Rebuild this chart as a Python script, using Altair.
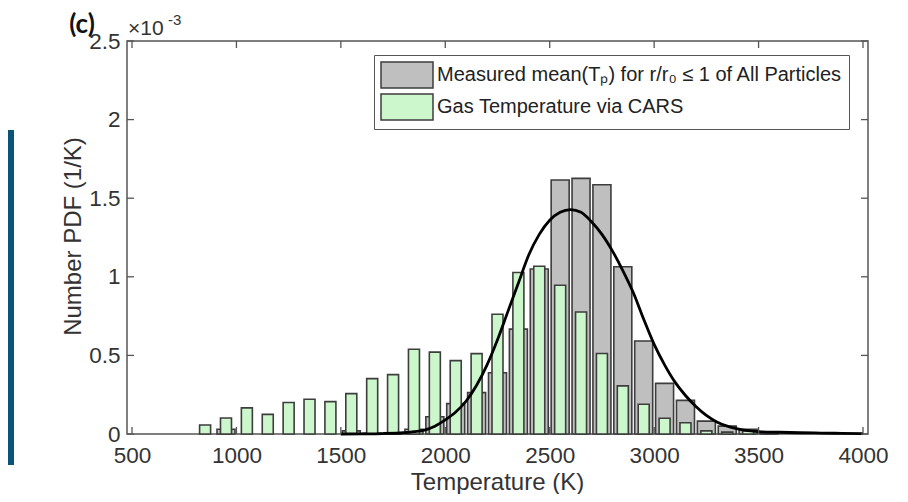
import altair as alt
import pandas as pd

# ---------------- data (values in units of 1e-3 1/K) ----------------
temp_bins = [850, 950, 1050, 1150, 1250, 1350, 1450, 1550, 1650, 1750,
             1850, 1950, 2050, 2150, 2250, 2350, 2450, 2550, 2650, 2750,
             2850, 2950, 3050, 3150, 3250, 3350, 3450, 3550]
particle_pdf = [0.0, 0.03, 0.0, 0.0, 0.0, 0.0, 0.0, 0.02, 0.005, 0.008,
                0.03, 0.11, 0.193, 0.263, 0.39, 0.667, 1.05, 1.616, 1.626, 1.586,
                1.064, 0.592, 0.322, 0.214, 0.082, 0.05, 0.03, 0.01]
gas_pdf = [0.057, 0.102, 0.166, 0.125, 0.20, 0.221, 0.206, 0.257, 0.352, 0.378,
           0.539, 0.521, 0.467, 0.511, 0.762, 1.027, 1.067, 0.946, 0.776, 0.512,
           0.306, 0.189, 0.10, 0.072, 0.02, 0.012, 0.02, 0.005]

fit_T = [1500, 1600, 1700, 1800, 1850, 1900, 1950, 2000, 2050, 2100,
         2150, 2200, 2250, 2300, 2350, 2400, 2450, 2500, 2550, 2600,
         2650, 2700, 2750, 2800, 2850, 2900, 2950, 3000, 3050, 3100,
         3150, 3200, 3250, 3300, 3350, 3400, 3450, 3500, 3600, 3700,
         3800, 3900, 4000]
fit_pdf = [0.0, 0.001, 0.003, 0.008, 0.015, 0.025, 0.05, 0.09, 0.14, 0.21,
           0.31, 0.44, 0.60, 0.78, 0.96, 1.14, 1.27, 1.36, 1.41, 1.427,
           1.41, 1.35, 1.27, 1.165, 1.04, 0.90, 0.73, 0.57, 0.44, 0.33,
           0.245, 0.175, 0.118, 0.077, 0.05, 0.032, 0.021, 0.015, 0.011, 0.008,
           0.006, 0.004, 0.003]

x_ticks = [500, 1000, 1500, 2000, 2500, 3000, 3500, 4000]
y_ticks = [0, 0.5, 1, 1.5, 2, 2.5]

series_names = ["Measured mean(T\u209a) for r/r\u2080 \u2264 1 of All Particles",
                "Gas Temperature via CARS"]
series_fill = ["#bfbfbf", "#ccf7cc"]

# ---------------- frames ----------------
particles = pd.DataFrame({"T": temp_bins, "pdf": particle_pdf, "series": series_names[0]})
particles = particles[particles["pdf"] > 0]
gas = pd.DataFrame({"T": temp_bins, "pdf": gas_pdf, "series": series_names[1]})
fit = pd.DataFrame({"T": fit_T, "pdf": fit_pdf})
xt = pd.DataFrame({"T": x_ticks})
yt = pd.DataFrame({"pdf": y_ticks})
one = pd.DataFrame({"k": [0]})

FONT = "Liberation Sans"
W, H = 741, 393

xs = alt.Scale(domain=[500, 4000], nice=False, zero=False)
ys = alt.Scale(domain=[0, 2.5], nice=False, zero=True)

x_enc = alt.X("T:Q", scale=xs,
              axis=alt.Axis(values=x_ticks, format="d", title="Temperature (K)",
                            labelPadding=10, titleX=370, titleY=48,
                            titleAlign="center", titleBaseline="middle"))
y_enc = alt.Y("pdf:Q", scale=ys, stack=None,
              axis=alt.Axis(values=y_ticks, format="~g", title="Number PDF (1/K)",
                            labelPadding=7, titleX=-54, titleY=195, titleAngle=270,
                            titleAlign="center", titleBaseline="middle"))

color = alt.Color(
    "series:N",
    scale=alt.Scale(domain=series_names, range=series_fill),
    legend=alt.Legend(title=None, orient="none", legendX=247, legendY=14,
                      direction="vertical", fillColor="white", strokeColor="#555555",
                      padding=6, rowPadding=0,
                      symbolType="M-1,-1H3V1H-1Z", symbolSize=676,
                      symbolStrokeColor="#3d3d3d", symbolStrokeWidth=1.5, symbolOpacity=1,
                      labelFont=FONT, labelFontSize=20, labelColor="#222222",
                      labelOffset=29, labelLimit=700),
)

gray_bars = alt.Chart(particles).mark_bar(width=18, stroke="#3d3d3d", strokeWidth=1.6,
                                          opacity=1).encode(x=x_enc, y=y_enc, color=color)
green_bars = alt.Chart(gas).mark_bar(width=11, stroke="#3d3d3d", strokeWidth=1.6,
                                     opacity=1).encode(x=x_enc, y=y_enc, color=color)
curve = alt.Chart(fit).mark_line(color="black", strokeWidth=2.8,
                                 interpolate="monotone").encode(x=x_enc, y=y_enc)

tick_col = "#555555"
xt_bottom = alt.Chart(xt).mark_rule(color=tick_col, strokeWidth=1.3).encode(
    x=x_enc, y=alt.value(H), y2=alt.value(H - 7))
xt_top = alt.Chart(xt).mark_rule(color=tick_col, strokeWidth=1.3).encode(
    x=x_enc, y=alt.value(0), y2=alt.value(7))
yt_left = alt.Chart(yt).mark_rule(color=tick_col, strokeWidth=1.3).encode(
    y=y_enc, x=alt.value(0), x2=alt.value(7))
yt_right = alt.Chart(yt).mark_rule(color=tick_col, strokeWidth=1.3).encode(
    y=y_enc, x=alt.value(W - 7), x2=alt.value(W))

exp_base = alt.Chart(one).mark_text(text="\u00d710", font=FONT, fontSize=21, align="left",
                                    baseline="alphabetic", color="#333333").encode(
    x=alt.value(1), y=alt.value(-6))
exp_pow = alt.Chart(one).mark_text(text="-3", font=FONT, fontSize=15, align="left",
                                   baseline="alphabetic", color="#333333").encode(
    x=alt.value(41), y=alt.value(-16))
panel = alt.Chart(one).mark_text(text="(c)", font="Lato", fontWeight="bold", fontSize=26,
                                 align="center", baseline="middle", color="#111111").encode(
    x=alt.value(-45), y=alt.value(-16))
side_bar = alt.Chart(one).mark_rect(color="#0b5479").encode(
    x=alt.value(-119), x2=alt.value(-113), y=alt.value(89), y2=alt.value(424))

chart = alt.layer(
    gray_bars, green_bars, curve, xt_bottom, xt_top, yt_left, yt_right,
    exp_base, exp_pow, panel, side_bar
).properties(
    width=W, height=H,
    autosize=alt.AutoSizeParams(type="none"),
    padding={"left": 119, "top": 33, "right": 24, "bottom": 60},
).configure_view(
    stroke="#555555", strokeWidth=1.5
).configure_axis(
    domain=False, ticks=False, grid=False,
    labelFont=FONT, labelFontSize=22.5, labelColor="#333333",
    titleFont=FONT, titleFontSize=24, titleColor="#333333", titleFontWeight="normal",
)

chart.save("out.html", embed_options={"renderer": "svg", "actions": False})
